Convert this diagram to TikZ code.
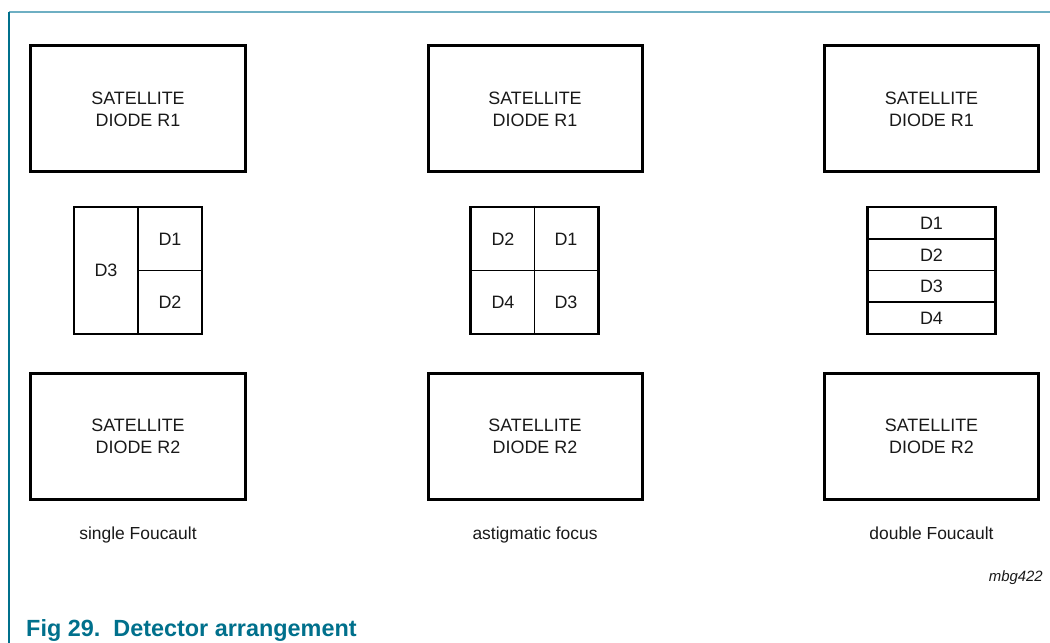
\documentclass[tikz,border=0pt]{standalone}
\usepackage{fontspec}
\setmainfont{Liberation Sans}
\definecolor{capteal}{RGB}{0,112,140}
\definecolor{topteal}{RGB}{110,175,195}
\definecolor{inkgray}{RGB}{25,25,25}
\begin{document}
\begin{tikzpicture}[x=1bp,y=-1bp,
  txt/.style={font=\fontsize{18}{22}\selectfont,text=inkgray,inner sep=0pt},
  satbox/.style={draw=black,line width=3bp,minimum width=214bp,minimum height=126bp,align=center,txt},
  detbox/.style={draw=black,line width=2.6bp,minimum width=128bp,minimum height=127bp,inner sep=0pt},
  divider/.style={draw=black,line width=1.3bp},
  dlabel/.style={txt},
  caplabel/.style={font=\fontsize{17.5}{20}\selectfont,text=inkgray,inner sep=0pt,anchor=base},
  figcap/.style={font=\fontsize{23.5}{26}\selectfont\bfseries,text=capteal,inner sep=0pt,anchor=base west},
  refcode/.style={font=\fontsize{15}{18}\selectfont\itshape,text=inkgray,inner sep=0pt,anchor=base east}
]
\useasboundingbox (0,0) rectangle (1050,643);
% frame
\coordinate (ftl) at (9,12);
\coordinate (ftr) at (1050,12);
\coordinate (fbl) at (9,643);
\draw[topteal,line width=1.3bp] (ftl) -- (ftr);
\draw[capteal,line width=1.3bp] (ftl) -- (fbl);

% satellite boxes
\node[satbox] (s1a) at (138,109) {SATELLITE\\DIODE R1};
\node[satbox] (s2a) at (535,109) {SATELLITE\\DIODE R1};
\node[satbox] (s3a) at (931.5,109) {SATELLITE\\DIODE R1};
\node[satbox] (s1b) at (138,436.5) {SATELLITE\\DIODE R2};
\node[satbox] (s2b) at (535,436.5) {SATELLITE\\DIODE R2};
\node[satbox] (s3b) at (931.5,436.5) {SATELLITE\\DIODE R2};

% detector 1: single Foucault
\node[detbox] (d1) at (138,270.5) {};
\coordinate (d1vt) at (138,207);
\coordinate (d1vb) at (138,334);
\coordinate (d1hr) at (202,270.5);
\draw[divider] (d1vt) -- (d1vb);
\draw[divider] (d1.center) -- (d1hr);
\node[dlabel] (d1l3) at (106,270.5) {D3};
\node[dlabel] (d1l1) at (170,239) {D1};
\node[dlabel] (d1l2) at (170,302) {D2};

% detector 2: astigmatic focus
\node[detbox] (d2) at (534.5,270.5) {};
\draw[divider] (d2.north) -- (d2.south);
\draw[divider] (d2.west) -- (d2.east);
\node[dlabel] (d2l2) at (503,239) {D2};
\node[dlabel] (d2l1) at (566,239) {D1};
\node[dlabel] (d2l4) at (503,302) {D4};
\node[dlabel] (d2l3) at (566,302) {D3};

% detector 3: double Foucault
\node[detbox] (d3) at (931.5,270.5) {};
\coordinate (d3a1) at (868,239);
\coordinate (d3a2) at (995,239);
\coordinate (d3b1) at (868,270.5);
\coordinate (d3b2) at (995,270.5);
\coordinate (d3c1) at (868,302);
\coordinate (d3c2) at (995,302);
\draw[divider] (d3a1) -- (d3a2);
\draw[divider] (d3b1) -- (d3b2);
\draw[divider] (d3c1) -- (d3c2);
\node[dlabel] (d3l1) at (931.5,223.5) {D1};
\node[dlabel] (d3l2) at (931.5,255) {D2};
\node[dlabel] (d3l3) at (931.5,286.5) {D3};
\node[dlabel] (d3l4) at (931.5,318) {D4};

% arrangement names
\node[caplabel] (n1) at (138,539) {single Foucault};
\node[caplabel] (n2) at (535,539) {astigmatic focus};
\node[caplabel] (n3) at (931.5,539) {double Foucault};

\node[refcode] (code) at (1043,581) {mbg422};
\node[figcap] (cap) at (26,636) {Fig 29.\hspace{13bp}Detector arrangement};
\end{tikzpicture}
\end{document}
